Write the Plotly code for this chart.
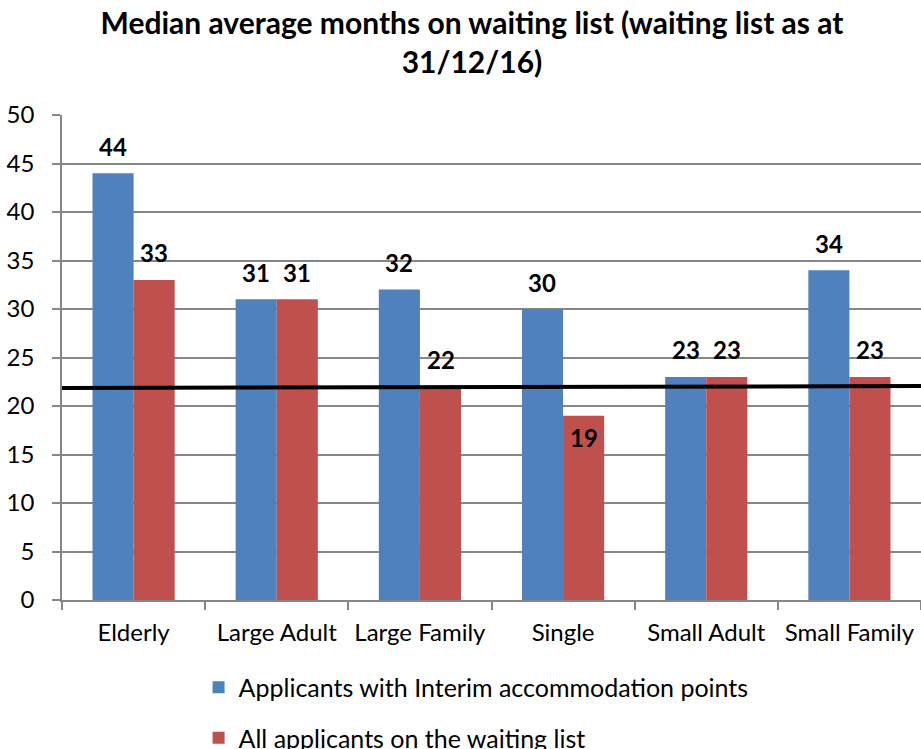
import plotly.graph_objects as go

categories = ["Elderly", "Large Adult", "Large Family", "Single", "Small Adult", "Small Family"]
interim_values = [44, 31, 32, 30, 23, 34]
all_values = [33, 31, 22, 19, 23, 23]
series_names = ["Applicants with Interim accommodation points", "All applicants on the waiting list"]
ref_line_values = [21.85, 22.05]
y_ticks = [0, 5, 10, 15, 20, 25, 30, 35, 40, 45, 50]

BLUE = "#4F81BD"
RED = "#C0504D"
GRID = "#878787"
FONT = "Lato"
FS = 24

fig = go.Figure()
fig.add_trace(go.Bar(x=categories, y=interim_values, name=series_names[0],
                     marker=dict(color=BLUE, line=dict(width=0)), legendgroup="a"))
fig.add_trace(go.Bar(x=categories, y=all_values, name=series_names[1],
                     marker=dict(color=RED, line=dict(width=0)), legendgroup="b"))

# reference line across the plot (numeric overlay axis)
fig.add_trace(go.Scatter(x=[0, 1], y=ref_line_values, xaxis="x2", mode="lines",
                         line=dict(color="black", width=4), showlegend=False,
                         hoverinfo="skip"))

annotations = []
for cat, v in zip(categories, interim_values):
    annotations.append(dict(x=cat, y=v, xref="x", yref="y", text=f"<b>{v}</b>", showarrow=False,
                            xshift=-20.7, yshift=27, yanchor="middle",
                            font=dict(family=FONT, size=FS, color="black")))
for cat, v in zip(categories, all_values):
    inside = v < 20
    annotations.append(dict(x=cat, y=v, xref="x", yref="y", text=f"<b>{v}</b>", showarrow=False,
                            xshift=20.7, yshift=-22 if inside else 27, yanchor="middle",
                            font=dict(family=FONT, size=FS, color="black")))

fig.update_layout(
    width=921, height=749,
    margin=dict(l=62, r=0, t=115, b=149, autoexpand=False),
    paper_bgcolor="white", plot_bgcolor="white",
    font=dict(family=FONT, size=FS, color="black"),
    title=dict(text="<b>Median average months on waiting list (waiting list as at<br>31/12/16)</b>",
               x=472 / 921, xref="container", xanchor="center", y=0.955, yanchor="top",
               font=dict(family=FONT, size=30, color="black")),
    barmode="group", bargap=0.426, bargroupgap=0,
    showlegend=True,
    legend=dict(orientation="v", x=0.159, xanchor="left", y=-0.133, yanchor="top",
                font=dict(family=FONT, size=25, color="black"), tracegroupgap=15,
                traceorder="grouped", itemwidth=30, bgcolor="rgba(0,0,0,0)"),
    annotations=annotations,
    xaxis=dict(type="category", showgrid=False, showline=True, linecolor=GRID, linewidth=1.5,
               ticks="outside", tickson="boundaries", ticklen=8, tickcolor=GRID, tickwidth=1.5,
               tickfont=dict(family=FONT, size=FS, color="black"), ticklabelstandoff=10),
    xaxis2=dict(overlaying="x", range=[0, 1], visible=False, showgrid=False),
    yaxis=dict(range=[0, 50], tickvals=y_ticks, showgrid=True, gridcolor=GRID, gridwidth=1.5,
               showline=True, linecolor=GRID, linewidth=1.5, ticks="outside", ticklen=8,
               tickcolor=GRID, tickwidth=1.5, zeroline=False,
               tickfont=dict(family=FONT, size=FS, color="black"), ticklabelstandoff=13),
)

fig.write_html("out.html", config={"displayModeBar": False},
               post_script="document.body.style.margin='0';")
